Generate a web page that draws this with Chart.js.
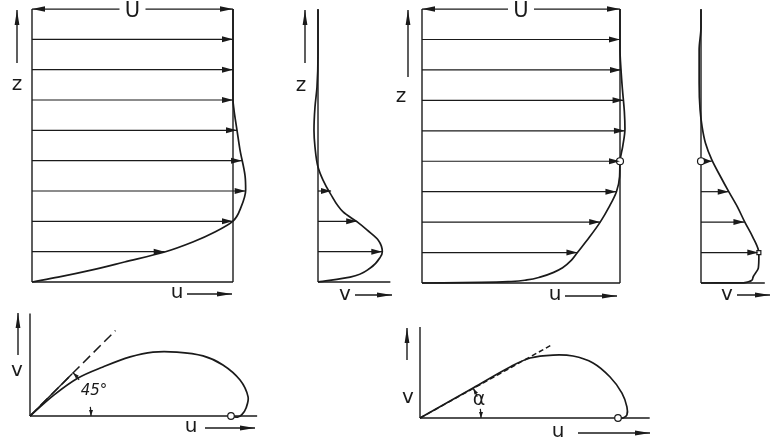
<!DOCTYPE html>
<html>
<head>
<meta charset="utf-8">
<title>Ekman layer profiles</title>
<script src="https://cdn.jsdelivr.net/npm/chart.js@4/dist/chart.umd.min.js"></script>
<style>
  html, body { margin: 0; padding: 0; background: #fff; }
  #sheet { position: relative; width: 770px; height: 441px; overflow: hidden; }
  #sheet canvas { position: absolute; left: 0; top: 0; }
</style>
</head>
<body>
<div id="sheet">
  <canvas id="uEkman" width="770" height="441"></canvas>
  <canvas id="vEkman" width="770" height="441"></canvas>
  <canvas id="uLog" width="770" height="441"></canvas>
  <canvas id="vLog" width="770" height="441"></canvas>
  <canvas id="hodoEkman" width="770" height="441"></canvas>
  <canvas id="hodoLog" width="770" height="441"></canvas>
</div>
<script>
// arrow heights (steps above the ground, the U line sits at step 9)
const levels = [1, 2, 3, 4, 5, 6, 7, 8];

// constant eddy viscosity: u/U and v/U profiles
const zCurveA = [0, 0.16, 0.4, 0.66, 0.99, 1.32, 1.65, 2.01, 2.47, 3.03, 3.5, 4.35, 5.0, 5.67, 6.0, 9];
const uCurveA = [0, 0.13, 0.30, 0.46, 0.66, 0.80, 0.91, 1.0, 1.04, 1.063, 1.06, 1.035, 1.02, 1.005, 1.0, 1.0];
const uArrowsA = [0.66, 1.0, 1.063, 1.045, 1.02, 1.0, 1.0, 1.0];

const zCurveVA = [0, 0.16, 0.46, 0.82, 1.0, 1.38, 1.71, 1.98, 2.31, 2.93, 3.36, 3.79, 4.45, 5.0, 5.77, 6.43, 7.5, 9];
const vCurveA = [0, 0.16, 0.26, 0.31, 0.32, 0.30, 0.245, 0.195, 0.125, 0.06, 0.025, 0, -0.015, -0.02, -0.015, -0.005, 0, 0];
const vArrowsA = [0.32, 0.195, 0.065];

// variable eddy viscosity: u/U and v/U profiles
const zCurveB = [0, 0.02, 0.05, 0.1, 0.2, 0.35, 0.5, 0.75, 1.0, 1.5, 2.0, 2.5, 3.0, 3.5, 4.0, 4.5, 5.07, 5.63, 6.38, 7.01, 7.67, 9];
const uCurveB = [0, 0.3, 0.45, 0.53, 0.6, 0.665, 0.71, 0.755, 0.785, 0.845, 0.9, 0.945, 0.982, 0.998, 1.0, 1.014, 1.025, 1.022, 1.012, 1.005, 1.0, 1.0];
const uArrowsB = [0.785, 0.9, 0.982, 1.0, 1.025, 1.018, 1.005, 1.0];

const zCurveVB = [0, 0.005, 0.16, 0.49, 0.86, 1.09, 1.51, 2.0, 2.5, 3.0, 3.49, 4.05, 4.6, 5.13, 5.69, 6.58, 7.66, 8.4, 9];
const vCurveB = [0, 0.23, 0.28, 0.31, 0.313, 0.31, 0.28, 0.237, 0.197, 0.15, 0.106, 0.058, 0.024, 0.006, -0.005, -0.01, -0.01, 0, 0];
const vArrowsB = [0.31, 0.235, 0.15, 0.058];

// hodographs (v against u)
const uHodoA = [0, 0.12, 0.239, 0.363, 0.498, 0.612, 0.731, 0.861, 0.96, 1.045, 1.085, 1.075, 1.055, 1.035, 1.015, 1.0];
const vHodoA = [0, 0.105, 0.189, 0.244, 0.294, 0.318, 0.318, 0.299, 0.254, 0.179, 0.095, 0.04, 0.008, -0.005, -0.004, 0];
const tangentA = { u: [0, 0.425], v: [0, 0.425] };

const uHodoB = [0, 0.268, 0.455, 0.556, 0.672, 0.773, 0.874, 0.96, 1.02, 1.045, 1.045, 1.025, 1.0];
const vHodoB = [0, 0.152, 0.258, 0.303, 0.318, 0.313, 0.278, 0.207, 0.126, 0.056, 0.015, 0.0, 0.0];
const tangentB = { u: [0, 0.67], v: [0, 0.372] };

const ink = '#1a1a1a';
const face = '"DejaVu Sans", "Liberation Sans", sans-serif';

function arrowHead(ctx, x1, y1, x2, y2, len, half) {
    const a = Math.atan2(y2 - y1, x2 - x1);
    ctx.save();
    ctx.translate(x2, y2);
    ctx.rotate(a);
    ctx.beginPath();
    ctx.moveTo(0, 0);
    ctx.lineTo(-len, -half);
    ctx.lineTo(-len, half);
    ctx.closePath();
    ctx.fill();
    ctx.restore();
}

function arrow(ctx, x1, y1, x2, y2, len, half) {
    ctx.beginPath();
    ctx.moveTo(x1, y1);
    ctx.lineTo(x2, y2);
    ctx.stroke();
    arrowHead(ctx, x1, y1, x2, y2, len, half);
}

function label(ctx, t, x, y, size, style) {
    ctx.font = `${style || ''} ${size}px ${face}`;
    ctx.textAlign = 'center';
    ctx.textBaseline = 'middle';
    ctx.fillText(t, x, y);
}

// frame, arrowheads, arcs and lettering
const sketch = {
    id: 'sketch',
    beforeDatasetsDraw(chart, args, o) {
        const { ctx } = chart;
        const sx = chart.scales.x, sy = chart.scales.y;
        ctx.save();
        ctx.strokeStyle = ink;
        ctx.fillStyle = ink;
        ctx.lineWidth = 1.4;
        (o.frame || []).forEach(([x1, y1, x2, y2]) => {
            ctx.beginPath();
            ctx.moveTo(sx.getPixelForValue(x1), sy.getPixelForValue(y1));
            ctx.lineTo(sx.getPixelForValue(x2), sy.getPixelForValue(y2));
            ctx.stroke();
        });
        if (o.span) {
            const yy = sy.getPixelForValue(o.span);
            const a = sx.getPixelForValue(0), b = sx.getPixelForValue(1), m = (a + b) / 2;
            ctx.lineWidth = 1.3;
            arrow(ctx, m - 13, yy, a, yy, 13, 2.8);
            arrow(ctx, m + 13, yy, b, yy, 13, 2.8);
            label(ctx, 'U', m, yy + 3, 21);
        }
        ctx.restore();
    },
    afterDatasetsDraw(chart, args, o) {
        const { ctx } = chart;
        ctx.save();
        ctx.strokeStyle = ink;
        ctx.fillStyle = ink;
        chart.data.datasets.forEach((ds, i) => {
            if (!ds.head) return;
            const p = chart.getDatasetMeta(i).data;
            const a = p[p.length - 2], b = p[p.length - 1];
            const len = Math.min(11, Math.abs(b.x - a.x) - 3);
            if (len < 4) return;
            arrowHead(ctx, a.x, a.y, b.x, b.y, len, 3);
        });
        if (o.arc) {
            const p = chart.getDatasetMeta(o.arc.ref).data;
            const c = p[0], e = p[p.length - 1];
            const th = Math.atan2(c.y - e.y, e.x - c.x);
            const r = o.arc.r, d = 0.15;
            ctx.lineWidth = 1.2;
            ctx.beginPath();
            ctx.arc(c.x, c.y, r, -d, 0);
            ctx.stroke();
            arrowHead(ctx, c.x + r, c.y - 6, c.x + r, c.y, 6, 2);
            ctx.beginPath();
            ctx.arc(c.x, c.y, r, -th, -(th - d));
            ctx.stroke();
            const tx = c.x + r * Math.cos(th), ty = c.y - r * Math.sin(th);
            arrowHead(ctx, tx + 6 * Math.sin(th), ty + 6 * Math.cos(th), tx, ty, 6, 2);
        }
        ctx.lineWidth = 1.4;
        (o.pointers || []).forEach(([x1, y1, x2, y2]) => arrow(ctx, x1, y1, x2, y2, 15, 2.4));
        (o.texts || []).forEach(t => label(ctx, t.t, t.x, t.y, t.size || 20, t.style));
        ctx.restore();
    }
};

// hodograph curves: free spline through the points
function curve(xs, ys) {
    return {
        data: xs.map((x, i) => ({ x: x, y: ys[i] })),
        showLine: true, borderColor: ink, borderWidth: 1.7,
        pointRadius: 0, tension: 0.35, order: 2
    };
}

// vertical profiles: monotone spline along the height axis
function profile(xs, zs) {
    return {
        data: xs.map((x, i) => ({ x: x, y: zs[i] })),
        indexAxis: 'y', cubicInterpolationMode: 'monotone',
        showLine: true, borderColor: ink, borderWidth: 1.7,
        pointRadius: 0, order: 2
    };
}

function vectors(zs, xs) {
    return zs.map((z, i) => ({
        data: [{ x: 0, y: z }, { x: xs[i], y: z }],
        showLine: true, borderColor: ink, borderWidth: 1.2,
        pointRadius: 0, tension: 0, head: true, order: 3
    }));
}

function rings(xs, ys, style, r) {
    return {
        data: xs.map((x, i) => ({ x: x, y: ys[i] })),
        showLine: false, pointStyle: style, pointRadius: r,
        backgroundColor: '#fff', borderColor: ink, borderWidth: 1.2, order: 0
    };
}

function dashed(line, dash) {
    return {
        data: line.u.map((u, i) => ({ x: u, y: line.v[i] })),
        showLine: true, borderColor: ink, borderWidth: 1.5, borderDash: dash,
        pointRadius: 0, tension: 0, order: 1
    };
}

// origin pixel, pixels per unit, value ranges -> chart area via layout padding
function panel(id, geo, datasets, sketchOpts) {
    const [ox, oy] = geo.origin, [kx, ky] = geo.scale;
    const left = ox + geo.x[0] * kx, right = ox + geo.x[1] * kx;
    const top = oy - geo.y[1] * ky, bottom = oy - geo.y[0] * ky;
    return new Chart(document.getElementById(id), {
        type: 'scatter',
        data: { datasets: datasets },
        options: {
            responsive: false,
            devicePixelRatio: 1,
            animation: false,
            events: [],
            layout: { padding: { left: left, top: top, right: 770 - right, bottom: 441 - bottom } },
            datasets: { scatter: { clip: false } },
            elements: { line: { capBezierPoints: false } },
            scales: {
                x: { type: 'linear', display: false, min: geo.x[0], max: geo.x[1] },
                y: { type: 'linear', display: false, min: geo.y[0], max: geo.y[1] }
            },
            plugins: { legend: { display: false }, tooltip: { enabled: false }, sketch: sketchOpts }
        },
        plugins: [sketch]
    });
}

window.onload = function () {

    panel('uEkman', { origin: [32, 282], scale: [201, 30.33], x: [0, 1], y: [0, 9] },
        [profile(uCurveA, zCurveA), ...vectors(levels, uArrowsA)],
        {
            frame: [[0, 0, 0, 9], [0, 0, 1, 0], [1, 0, 1, 9]],
            span: 9,
            pointers: [[17, 63, 17, 10], [187, 294, 232, 294]],
            texts: [{ t: 'z', x: 17, y: 85 }, { t: 'u', x: 177, y: 293 }]
        });

    panel('vEkman', { origin: [318, 282], scale: [201, 30.33], x: [0, 0.36], y: [0, 9] },
        [profile(vCurveA, zCurveVA), ...vectors(levels.slice(0, 3), vArrowsA)],
        {
            frame: [[0, 0, 0, 8.97], [0, 0, 0.36, 0]],
            pointers: [[305, 63, 305, 10], [355, 295, 392, 295]],
            texts: [{ t: 'z', x: 301, y: 86 }, { t: 'v', x: 345, y: 295 }]
        });

    panel('uLog', { origin: [422, 283], scale: [198, 30.44], x: [0, 1], y: [0, 9] },
        [profile(uCurveB, zCurveB), ...vectors(levels, uArrowsB), rings([1.0], [4], 'circle', 3.5)],
        {
            frame: [[0, 0, 0, 9], [0, 0, 1, 0], [1, 0, 1, 9]],
            span: 9,
            pointers: [[408, 77, 408, 10], [565, 296, 617, 296]],
            texts: [{ t: 'z', x: 401, y: 97 }, { t: 'u', x: 555, y: 295 }]
        });

    panel('vLog', { origin: [701, 283], scale: [198, 30.44], x: [0, 0.345], y: [0, 9] },
        [profile(vCurveB, zCurveVB), ...vectors(levels.slice(0, 4), vArrowsB),
         rings([0], [4], 'circle', 3.5), rings([0.313], [1], 'rect', 2.8)],
        {
            frame: [[0, 0, 0, 8.97], [0, 0, 0.345, 0]],
            pointers: [[737, 295, 770, 295]],
            texts: [{ t: 'v', x: 727, y: 295 }]
        });

    panel('hodoEkman', { origin: [30, 416], scale: [201, 201], x: [0, 1.13], y: [0, 0.51] },
        [dashed(tangentA, [10, 5]), curve(uHodoA, vHodoA), rings([1.0], [0], 'circle', 3.3)],
        {
            frame: [[0, 0, 1.13, 0], [0, 0, 0, 0.51], [0, 0, 0.21, 0.21]],
            arc: { ref: 0, r: 61 },
            pointers: [[18, 355, 18, 313], [205, 428, 255, 428]],
            texts: [{ t: 'v', x: 17, y: 371 }, { t: 'u', x: 191, y: 427 },
                    { t: '45°', x: 94, y: 391, size: 15, style: 'italic' }]
        });

    panel('hodoLog', { origin: [420, 418], scale: [198, 198], x: [0, 1.16], y: [0, 0.46] },
        [dashed(tangentB, [5, 3]), curve(uHodoB, vHodoB), rings([1.0], [0], 'circle', 3.3)],
        {
            frame: [[0, 0, 1.16, 0], [0, 0, 0, 0.46]],
            arc: { ref: 0, r: 61 },
            pointers: [[407, 360, 407, 328], [578, 433, 650, 433]],
            texts: [{ t: 'v', x: 408, y: 398 }, { t: 'u', x: 558, y: 432 },
                    { t: 'α', x: 479, y: 400, size: 19 }]
        });
};
</script>
</body>
</html>
